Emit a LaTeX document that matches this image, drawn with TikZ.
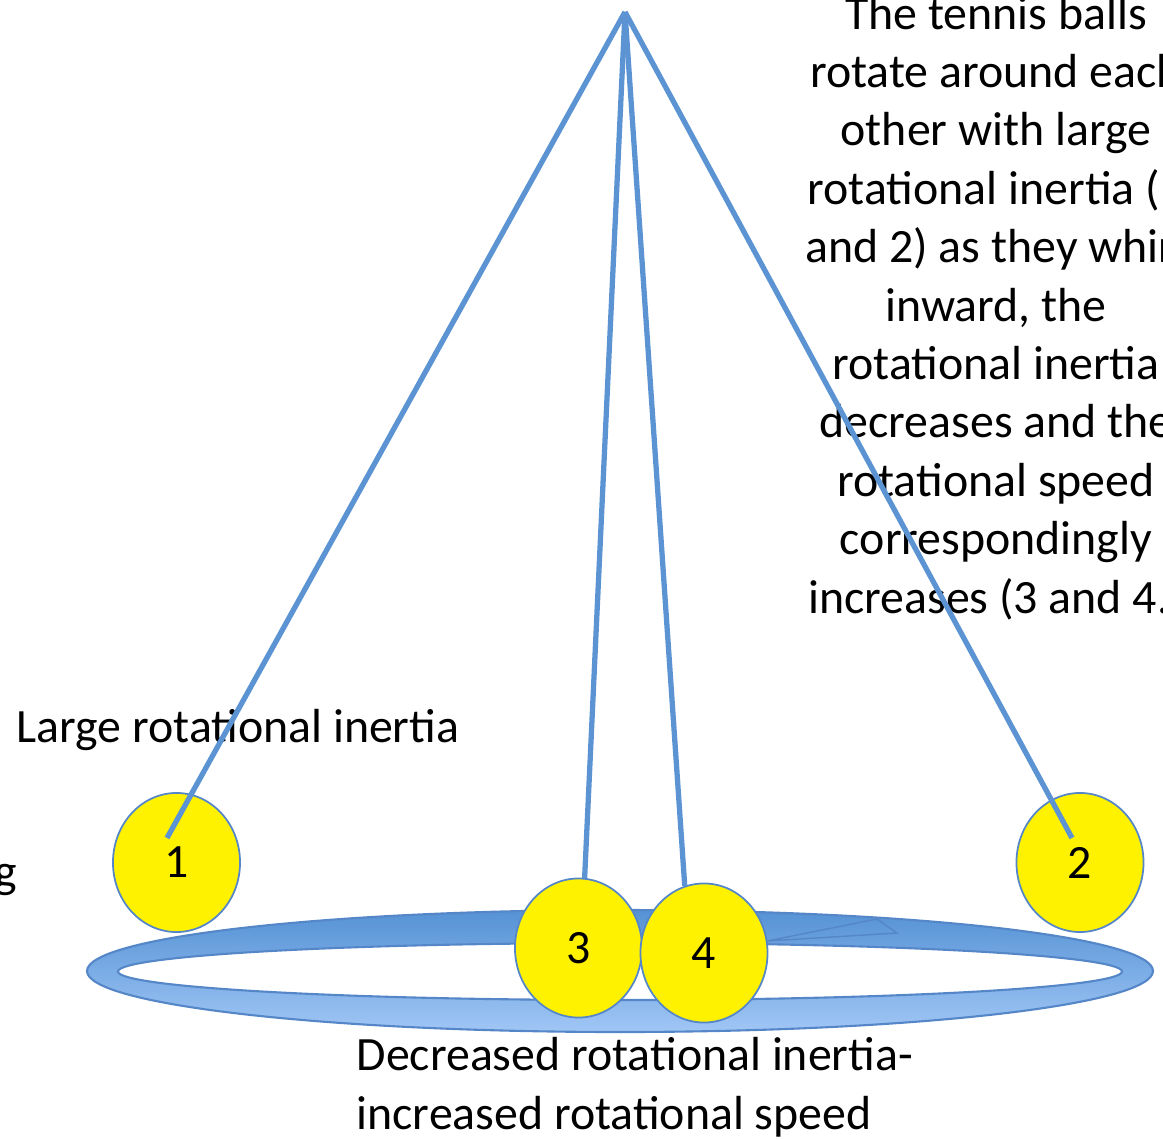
\documentclass[tikz,border=0pt]{standalone}
\usepackage{fontspec}
\setmainfont{Carlito}
\usetikzlibrary{positioning,shapes.geometric}
\definecolor{stringblue}{HTML}{5B93D3}
\definecolor{ringtop}{HTML}{5592D5}
\definecolor{ringbottom}{HTML}{A0C6F5}
\definecolor{ringline}{HTML}{5587C8}

\begin{document}
\begin{tikzpicture}[
    x=0.01cm, y=-0.01cm,
    every node/.style={font=\fontsize{13.6}{16.6}\selectfont, inner sep=0pt},
    ball/.style={ellipse, draw=ringline, line width=0.5pt, fill=yellow,
        minimum width=1.27cm, minimum height=1.39cm},
    string/.style={draw=stringblue, line width=1.5pt},
    caption/.style={anchor=base west, align=left}
]
\useasboundingbox (0,0) rectangle (1163,1139);
\clip (0,0) rectangle (1163,1139);

% ring
\shade[even odd rule, top color=ringtop, bottom color=ringbottom]
    (620,971) ellipse (533 and 61) (620,971.5) ellipse (502 and 28.5);
\draw[ringline, line width=0.6pt] (620,971) ellipse (533 and 61);
\draw[ringline, line width=0.6pt] (620,971.5) ellipse (502 and 28.5);
\draw[ringline, line width=0.4pt] (767,941) -- (877,919) -- (897,933) -- cycle;

% texts
\node[caption] (large) at (16,742) {Large rotational inertia};
\node[anchor=base east] (cut) at (18,887) {g};
\node[anchor=base, align=center] (explain) at (996,613)
    {The tennis balls\\rotate around each\\other with large\\rotational inertia (1\\and 2) as they whirl\\inward, the\\rotational inertia\\decreases and the\\rotational speed\\correspondingly\\increases (3 and 4.)};
\node[caption] (small) at (356,1129)
    {Decreased rotational inertia-\\increased rotational speed};

% balls
\node[ball] (ball1) at (176.5,862.5) {1};
\node[ball] (ball2) at (1080,862.5) {2};
\node[ball] (ball3) at (578.5,948) {3};
\node[ball] (ball4) at (704,953) {4};

% strings
\coordinate (apex) at (625,12);
\coordinate (knot1) at (167,838);
\coordinate (knot2) at (1072,838);
\draw[string] (apex) -- (knot1);
\draw[string] (apex) -- (knot2);
\draw[string] (apex) -- (ball3.85);
\draw[string] (apex) -- (ball4.106);
\end{tikzpicture}
\end{document}
